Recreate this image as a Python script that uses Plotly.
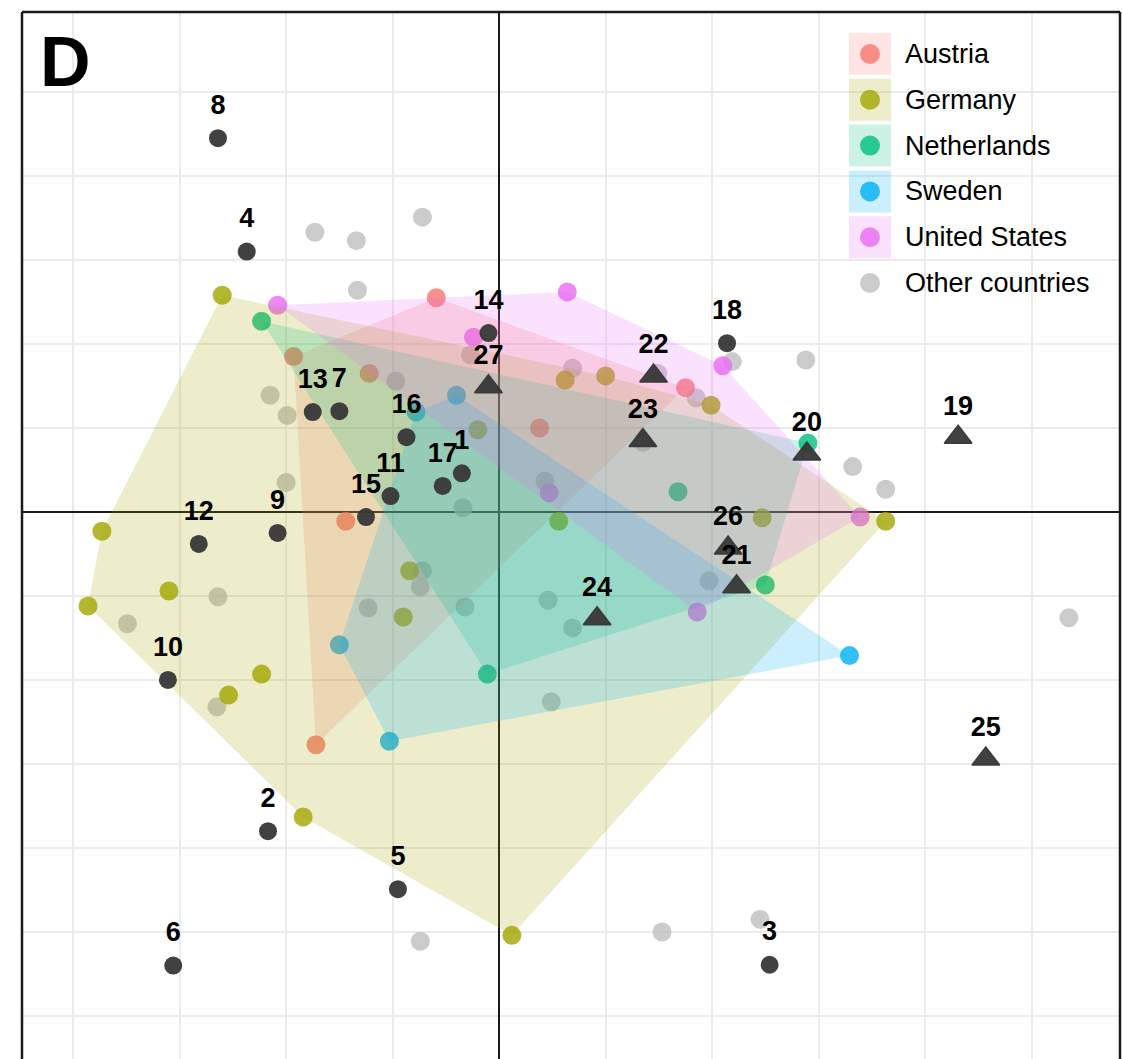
import plotly.graph_objects as go

# ---- country samples (component scores) ----
austria_x = [-0.59, -1.93, -1.22, 0.38, 1.75, -1.44, -1.72]
austria_y = [2.55, 1.85, 1.65, 1.00, 1.48, -0.11, -2.77]

germany_x = [-2.60, -3.73, -3.86, -3.10, -2.23, -2.54, -1.84, 0.12, 3.63, 2.47,
             1.99, 1.00, 0.62, -0.20, -0.84, -0.90, 0.56]
germany_y = [2.58, -0.23, -1.12, -0.94, -1.93, -2.18, -3.63, -5.04, -0.11, -0.07,
             1.27, 1.62, 1.57, 0.98, -0.70, -1.25, -0.11]

netherlands_x = [-2.23, -0.11, 2.50, 2.90, 1.68]
netherlands_y = [2.27, -1.93, -0.87, 0.82, 0.24]

sweden_x = [-0.78, -0.40, -1.50, -1.03, 3.29]
sweden_y = [1.19, 1.39, -1.58, -2.73, -1.71]

usa_x = [-2.08, -0.24, 0.64, 2.10, 3.39, 1.86, 0.47]
usa_y = [2.46, 2.08, 2.62, 1.74, -0.06, -1.19, 0.23]

other_x = [-1.73, -1.34, -0.72, -1.33, -2.15, -1.99, -2.00, -0.97, -0.27, -0.34,
           0.69, 0.43, 1.49, 1.85, 2.19, 1.35, 2.88, 3.32, 3.63, 5.35,
           1.97, 0.46, 0.69, 0.49, -0.32, -1.23, -0.74, -0.72, -2.64, -3.49,
           -2.65, -0.74, 1.53, 2.45]
other_y = [3.33, 3.23, 3.51, 2.64, 1.39, 1.15, 0.35, 1.56, 1.87, 0.05,
           1.71, 0.37, 1.65, 1.36, 1.79, 0.83, 1.81, 0.54, 0.27, -1.26,
           -0.82, -1.05, -1.38, -2.26, -1.13, -1.14, -0.89, -0.70, -1.01, -1.33,
           -2.32, -5.11, -5.00, -4.85]

# ---- numbered items (circles) ----
item_ids = ["1", "2", "3", "4", "5", "6", "7", "8", "9", "10",
            "11", "12", "13", "14", "15", "16", "17", "18"]
item_x = [-0.35, -2.17, 2.54, -2.37, -0.95, -3.06, -1.50, -2.64, -2.08, -3.11,
          -1.02, -2.82, -1.75, -0.10, -1.25, -0.87, -0.53, 2.14]
item_y = [0.46, -3.80, -5.39, 3.10, -4.49, -5.40, 1.20, 4.45, -0.25, -2.00,
          0.19, -0.38, 1.19, 2.13, -0.06, 0.89, 0.31, 2.01]

# ---- numbered items (triangles) ----
tri_ids = ["19", "20", "21", "22", "23", "24", "25", "26", "27"]
tri_x = [4.31, 2.89, 2.23, 1.45, 1.35, 0.92, 4.57, 2.15, -0.10]
tri_y = [0.89, 0.69, -0.89, 1.62, 0.85, -1.27, -2.94, -0.43, 1.49]

countries = ["Austria", "Germany", "Netherlands", "Sweden", "United States"]
country_rgb = {
    "Austria": (248, 118, 109),
    "Germany": (163, 165, 0),
    "Netherlands": (0, 191, 125),
    "Sweden": (0, 176, 246),
    "United States": (231, 107, 243),
}
country_pts = {
    "Austria": (austria_x, austria_y),
    "Germany": (germany_x, germany_y),
    "Netherlands": (netherlands_x, netherlands_y),
    "Sweden": (sweden_x, sweden_y),
    "United States": (usa_x, usa_y),
}
other_rgb = (190, 190, 190)
FONT = "Liberation Sans, Arial, Helvetica, sans-serif"


def rgba(c, a):
    return f"rgba({c[0]},{c[1]},{c[2]},{a})"


def convex_hull(xs, ys):
    pts = sorted(set(zip(xs, ys)))
    if len(pts) < 3:
        return pts

    def cross(o, a, b):
        return (a[0] - o[0]) * (b[1] - o[1]) - (a[1] - o[1]) * (b[0] - o[0])

    lower, upper = [], []
    for p in pts:
        while len(lower) >= 2 and cross(lower[-2], lower[-1], p) <= 0:
            lower.pop()
        lower.append(p)
    for p in reversed(pts):
        while len(upper) >= 2 and cross(upper[-2], upper[-1], p) <= 0:
            upper.pop()
        upper.append(p)
    return lower[:-1] + upper[:-1]


fig = go.Figure()

# background samples from other countries
fig.add_trace(go.Scatter(
    x=other_x, y=other_y, mode="markers",
    marker=dict(size=19, color=rgba(other_rgb, 0.8), line=dict(width=0)),
    hoverinfo="skip", showlegend=False))

# country samples
for c in countries:
    xs, ys = country_pts[c]
    fig.add_trace(go.Scatter(
        x=xs, y=ys, mode="markers", name=c,
        marker=dict(size=19, color=rgba(country_rgb[c], 0.8), line=dict(width=0)),
        hoverinfo="skip", showlegend=False))

# convex hull per country
for c in countries:
    xs, ys = country_pts[c]
    hull = convex_hull(xs, ys)
    hx = [p[0] for p in hull] + [hull[0][0]]
    hy = [p[1] for p in hull] + [hull[0][1]]
    fig.add_trace(go.Scatter(
        x=hx, y=hy, mode="lines", fill="toself",
        fillcolor=rgba(country_rgb[c], 0.2), line=dict(width=0),
        hoverinfo="skip", showlegend=False))

# numbered items
dark = "rgba(55,55,55,0.95)"
fig.add_trace(go.Scatter(
    x=item_x, y=item_y, mode="markers",
    marker=dict(size=18, color=dark, symbol="circle", line=dict(width=0)),
    hoverinfo="skip", showlegend=False))
fig.add_trace(go.Scatter(
    x=tri_x, y=tri_y, mode="markers",
    marker=dict(size=24, color=dark, symbol="triangle-up",
                line=dict(width=1.5, color=dark)),
    hoverinfo="skip", showlegend=False))

label_nudge = 0.37
fig.add_trace(go.Scatter(
    x=item_x + tri_x,
    y=[v + label_nudge for v in item_y] + [v + label_nudge - 0.02 for v in tri_y],
    text=item_ids + tri_ids, mode="text", textposition="middle center",
    textfont=dict(family=FONT, size=27, color="black", weight="bold"),
    hoverinfo="skip", showlegend=False))

# ---- layout geometry (pixels) ----
W, H = 1122, 1059
ML, MR, MT, MB = 22, 2, 12, 0
PW, PH = W - ML - MR, H - MT - MB


def px(xp):
    return (xp - ML) / PW


def py(yp):
    return 1 - (yp - MT) / PH


shapes = []
annotations = []

# panel border (left, top, right)
for x0, y0, x1, y1 in [(0, 0, 0, 1), (0, 1, 1, 1), (1, 0, 1, 1)]:
    shapes.append(dict(type="line", xref="paper", yref="paper",
                       x0=x0, y0=y0, x1=x1, y1=y1,
                       line=dict(color="#1a1a1a", width=2.5)))

# legend
legend_rows = countries + ["Other countries"]
row_top = 33
row_step = 45.8
key = 42
for i, name in enumerate(legend_rows):
    top = row_top + i * row_step
    cy = top + key / 2
    if name in country_rgb:
        col = country_rgb[name]
        shapes.append(dict(type="rect", xref="paper", yref="paper",
                           x0=px(849), x1=px(849 + key), y0=py(top), y1=py(top + key),
                           fillcolor=rgba(col, 0.2), line=dict(width=0), layer="above"))
        dot = rgba(col, 0.8)
    else:
        dot = rgba(other_rgb, 0.8)
    shapes.append(dict(type="circle", xref="paper", yref="paper",
                       xsizemode="pixel", ysizemode="pixel",
                       xanchor=px(870), yanchor=py(cy),
                       x0=-10, x1=10, y0=-10, y1=10,
                       fillcolor=dot, line=dict(width=0), layer="above"))
    annotations.append(dict(xref="paper", yref="paper", x=px(903), y=py(cy),
                            text=name, showarrow=False, xanchor="left", yanchor="middle",
                            font=dict(family=FONT, size=27, color="black")))

# panel tag
annotations.append(dict(xref="paper", yref="paper", x=px(38), y=py(62),
                        text="D", showarrow=False, xanchor="left", yanchor="middle",
                        font=dict(family=FONT, size=70, color="black", weight="bold")))

axis_common = dict(showticklabels=False, ticks="", dtick=1, tick0=0,
                   showgrid=True, gridcolor="#ebebeb", gridwidth=1.6,
                   zeroline=True, zerolinecolor="#1a1a1a", zerolinewidth=2,
                   showline=False, fixedrange=True)

fig.update_layout(
    width=W, height=H,
    margin=dict(l=ML, r=MR, t=MT, b=MB, pad=0),
    paper_bgcolor="white", plot_bgcolor="white",
    showlegend=False,
    xaxis=dict(range=[-4.48, 5.83], **axis_common),
    yaxis=dict(range=[-6.512, 5.952], **axis_common),
    shapes=shapes, annotations=annotations,
)

fig.write_html("out.html")
